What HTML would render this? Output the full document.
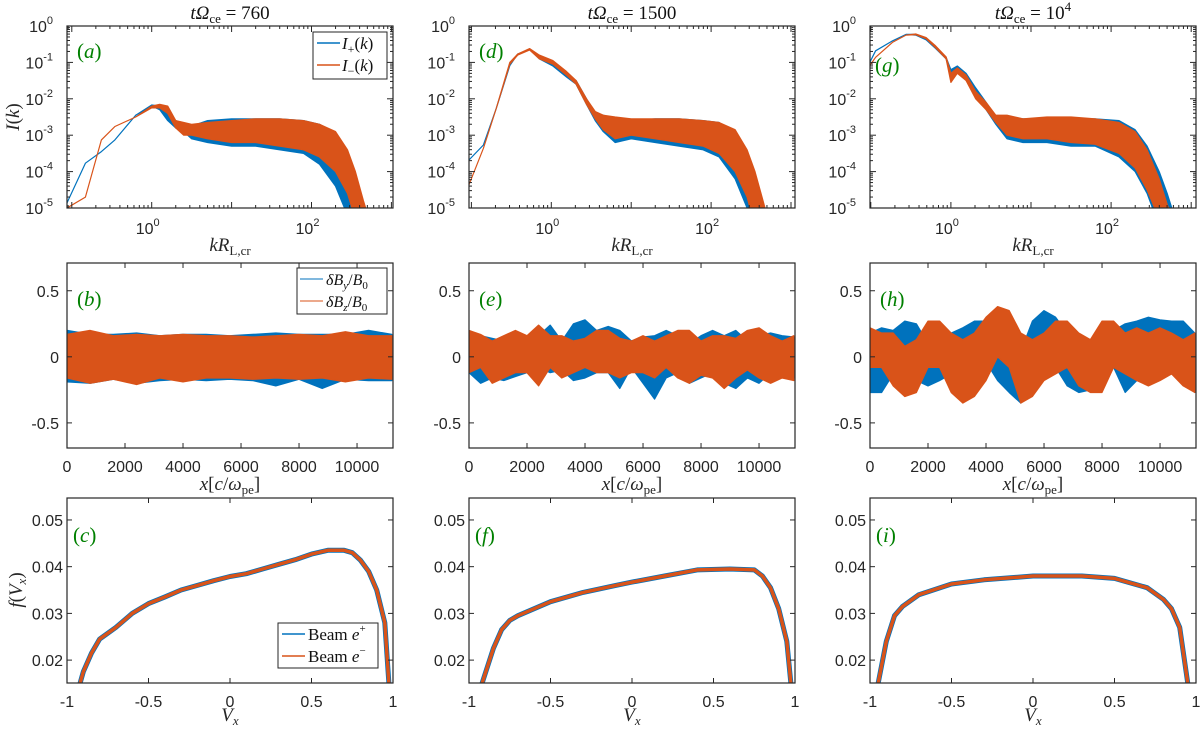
<!DOCTYPE html>
<html><head><meta charset="utf-8">
<style>
html,body{margin:0;padding:0;background:#fff;}
svg{display:block;}
.tk{font-family:"Liberation Sans",sans-serif;font-size:16px;fill:#262626;}
.it{font-family:"Liberation Serif",serif;font-style:italic;}
.rm{font-family:"Liberation Serif",serif;}
</style></head>
<body>
<svg id="fig" width="1200" height="731" viewBox="0 0 1200 731" xmlns="http://www.w3.org/2000/svg"></svg>
<script>
// ---------- DATA ----------
const specK_a = [-1.06,-0.83,-0.63,-0.46,-0.2,0,0.1,0.2,0.3,0.4,0.5,0.7,1.0,1.3,1.6,1.9,2.1,2.3,2.45,2.55,2.65,2.75];
const specBlueUp_a = [-4.86,-3.77,-3.45,-3.13,-2.45,-2.17,-2.2,-2.3,-2.6,-2.7,-2.75,-2.6,-2.55,-2.55,-2.55,-2.6,-2.7,-2.95,-3.6,-4.6,-5.5,-6];
const specBlueLo_a = [-4.86,-3.77,-3.45,-3.13,-2.45,-2.2,-2.3,-2.6,-2.8,-2.9,-3.1,-3.2,-3.3,-3.3,-3.4,-3.5,-3.8,-4.4,-5.2,-6,-6,-6];
const specOrgUp_a = [-5.0,-4.7,-3.13,-2.76,-2.5,-2.2,-2.15,-2.2,-2.6,-2.65,-2.7,-2.65,-2.6,-2.55,-2.55,-2.6,-2.7,-2.9,-3.4,-4.0,-4.8,-5.5];
const specOrgLo_a = [-5.0,-4.7,-3.13,-2.76,-2.5,-2.25,-2.25,-2.4,-2.8,-3.0,-3.0,-3.1,-3.2,-3.2,-3.3,-3.4,-3.6,-4.0,-4.6,-5.3,-6,-6];

const specK_d = [-1.03,-0.85,-0.69,-0.52,-0.42,-0.27,-0.15,0.02,0.19,0.31,0.44,0.55,0.65,0.8,1.0,1.3,1.6,1.9,2.1,2.3,2.45,2.55,2.65,2.75];
const specBlueUp_d = [-3.68,-3.27,-2.27,-1.09,-0.77,-0.64,-0.85,-1.0,-1.3,-1.5,-2.0,-2.4,-2.45,-2.55,-2.6,-2.55,-2.55,-2.6,-2.65,-2.95,-3.6,-4.3,-5.2,-6];
const specBlueLo_d = [-3.68,-3.27,-2.27,-1.09,-0.77,-0.64,-0.9,-1.1,-1.4,-1.6,-2.15,-2.6,-2.9,-3.2,-3.1,-3.2,-3.3,-3.4,-3.6,-4.2,-5.0,-6,-6,-6];
const specOrgUp_d = [-4.36,-3.36,-2.27,-1.0,-0.77,-0.62,-0.8,-0.95,-1.25,-1.5,-2.0,-2.35,-2.45,-2.5,-2.55,-2.55,-2.55,-2.6,-2.65,-2.85,-3.4,-4.0,-4.8,-5.6];
const specOrgLo_d = [-4.36,-3.36,-2.27,-1.05,-0.8,-0.66,-0.9,-1.05,-1.35,-1.6,-2.15,-2.55,-2.85,-3.1,-3.0,-3.1,-3.2,-3.3,-3.5,-4.0,-4.7,-5.5,-6,-6];

const specK_g = [-1.01,-0.94,-0.73,-0.56,-0.44,-0.31,-0.19,-0.06,0,0.08,0.19,0.31,0.44,0.56,0.7,0.9,1.2,1.5,1.8,2.1,2.3,2.45,2.6,2.7,2.8];
const specBlueUp_g = [-0.99,-0.68,-0.41,-0.23,-0.23,-0.36,-0.59,-0.86,-1.2,-1.1,-1.3,-1.7,-2.1,-2.5,-2.5,-2.55,-2.55,-2.55,-2.55,-2.6,-2.85,-3.3,-4.0,-4.6,-5.3];
const specBlueLo_g = [-0.99,-0.68,-0.41,-0.23,-0.25,-0.38,-0.62,-0.9,-1.4,-1.25,-1.45,-1.9,-2.3,-2.7,-3.1,-3.2,-3.2,-3.3,-3.3,-3.6,-4.0,-4.6,-5.5,-6,-6];
const specOrgUp_g = [-1.08,-0.86,-0.45,-0.25,-0.22,-0.32,-0.55,-0.85,-1.3,-1.15,-1.35,-1.8,-2.1,-2.45,-2.45,-2.55,-2.5,-2.5,-2.55,-2.65,-2.9,-3.4,-4.2,-4.9,-5.5];
const specOrgLo_g = [-1.08,-0.86,-0.45,-0.25,-0.24,-0.35,-0.6,-0.9,-1.55,-1.3,-1.5,-2.0,-2.3,-2.65,-3.0,-3.1,-3.1,-3.2,-3.25,-3.5,-3.9,-4.5,-5.3,-6,-6];

const fieldX_b = [0,800,1600,2400,3200,4000,4800,5600,6400,7200,8000,8800,9600,10400,11200];
const fieldBlueUp_b = [0.2,0.17,0.17,0.18,0.16,0.17,0.17,0.16,0.17,0.18,0.17,0.17,0.17,0.2,0.17];
const fieldBlueLo_b = [-0.19,-0.2,-0.17,-0.2,-0.18,-0.17,-0.18,-0.17,-0.18,-0.22,-0.17,-0.24,-0.17,-0.18,-0.18];
const fieldOrgUp_b = [0.17,0.2,0.16,0.17,0.16,0.17,0.16,0.16,0.15,0.16,0.17,0.16,0.19,0.16,0.16];
const fieldOrgLo_b = [-0.16,-0.2,-0.17,-0.21,-0.16,-0.19,-0.16,-0.16,-0.17,-0.16,-0.17,-0.16,-0.19,-0.16,-0.17];

const fieldX_eh = [0,400,800,1200,1600,2000,2400,2800,3200,3600,4000,4400,4800,5200,5600,6000,6400,6800,7200,7600,8000,8400,8800,9200,9600,10000,10400,10800,11200];
const fieldBlueUp_e = [0.2,0.16,0.14,0.12,0.18,0.12,0.16,0.24,0.12,0.25,0.28,0.2,0.23,0.2,0.12,0.15,0.16,0.2,0.16,0.1,0.16,0.2,0.16,0.2,0.12,0.16,0.18,0.16,0.15];
const fieldBlueLo_e = [-0.12,-0.2,-0.16,-0.18,-0.15,-0.12,-0.08,-0.12,-0.1,-0.18,-0.16,-0.12,-0.12,-0.24,-0.08,-0.2,-0.32,-0.16,-0.12,-0.2,-0.16,-0.12,-0.2,-0.24,-0.16,-0.2,-0.12,-0.15,-0.16];
const fieldOrgUp_e = [0.2,0.17,0.12,0.16,0.2,0.16,0.24,0.16,0.16,0.12,0.14,0.2,0.2,0.14,0.12,0.16,0.12,0.16,0.2,0.2,0.12,0.16,0.16,0.14,0.2,0.22,0.16,0.12,0.16];
const fieldOrgLo_e = [-0.12,-0.08,-0.2,-0.16,-0.12,-0.12,-0.22,-0.08,-0.16,-0.12,-0.08,-0.12,-0.12,-0.16,-0.12,-0.12,-0.16,-0.08,-0.16,-0.2,-0.14,-0.16,-0.24,-0.16,-0.1,-0.16,-0.2,-0.16,-0.18];
const fieldBlueUp_h = [0.18,0.22,0.2,0.27,0.25,0.1,0.08,0.18,0.22,0.27,0.27,0.18,0.08,0.04,0.27,0.35,0.3,0.18,0.08,0.1,0.16,0.2,0.25,0.27,0.3,0.28,0.27,0.27,0.18];
const fieldBlueLo_h = [-0.27,-0.27,-0.13,-0.04,-0.18,-0.22,-0.18,-0.13,-0.08,-0.08,-0.04,-0.18,-0.27,-0.35,-0.18,-0.04,-0.08,-0.22,-0.27,-0.25,-0.13,-0.08,-0.27,-0.18,-0.04,-0.08,-0.13,-0.18,-0.27];
const fieldOrgUp_h = [0.22,0.18,0.18,0.08,0.13,0.27,0.27,0.18,0.13,0.18,0.3,0.38,0.35,0.18,0.13,0.18,0.27,0.27,0.18,0.13,0.27,0.27,0.18,0.22,0.18,0.22,0.18,0.13,0.18];
const fieldOrgLo_h = [-0.08,-0.08,-0.22,-0.3,-0.27,-0.08,-0.08,-0.27,-0.35,-0.3,-0.18,0.0,-0.08,-0.35,-0.3,-0.18,-0.13,-0.08,-0.22,-0.27,-0.27,-0.08,-0.13,-0.18,-0.22,-0.18,-0.13,-0.22,-0.27];

const distV_c = [-0.92,-0.9,-0.85,-0.8,-0.7,-0.6,-0.5,-0.4,-0.3,-0.2,-0.1,0,0.1,0.2,0.3,0.4,0.5,0.6,0.7,0.75,0.8,0.85,0.9,0.95,0.975];
const distF_c = [0.015,0.0175,0.0215,0.0245,0.027,0.030,0.0321,0.0335,0.035,0.036,0.037,0.0379,0.0385,0.0395,0.0405,0.0415,0.0427,0.0435,0.0435,0.043,0.0414,0.039,0.035,0.028,0.015];
const distV_f = [-0.92,-0.85,-0.8,-0.75,-0.7,-0.5,-0.3,-0.1,0,0.2,0.4,0.6,0.75,0.8,0.85,0.9,0.95,0.975];
const distF_f = [0.015,0.0225,0.0265,0.0285,0.0295,0.0325,0.0345,0.036,0.0367,0.038,0.0393,0.0395,0.0393,0.038,0.0355,0.031,0.024,0.015];
const distV_i = [-0.95,-0.9,-0.85,-0.8,-0.7,-0.5,-0.3,0,0.3,0.5,0.7,0.8,0.85,0.9,0.95];
const distF_i = [0.015,0.024,0.0295,0.0315,0.034,0.0363,0.0372,0.038,0.038,0.0375,0.0355,0.033,0.031,0.027,0.015];

const titles = ["760","1500","10"];
const panelLetters = ["a","b","c","d","e","f","g","h","i"];
const fieldTicks = [0,2000,4000,6000,8000,10000];
const fieldYTicks = [-0.5,0,0.5];
const distXTicks = [-1,-0.5,0,0.5,1];
const distYTicks = [0.02,0.03,0.04,0.05];

// ---------- DRAW ----------
const NS = "http://www.w3.org/2000/svg";
const svg = document.getElementById('fig');
const BLUE = "#0072BD", ORG = "#D95319";
const colL = [67,469,870], W = 326;
const rowT = [26,263,498], rowH = [182,185,185];

function el(tag, attrs, parent){
  const e = document.createElementNS(NS, tag);
  for (const k in attrs) e.setAttribute(k, attrs[k]);
  (parent||svg).appendChild(e);
  return e;
}
function lin(d0,d1,r0,r1){ return v => r0 + (v-d0)/(d1-d0)*(r1-r0); }
function makeClip(id,x,y,w,h){
  let defs = svg.querySelector('defs') || el('defs',{});
  const cp = el('clipPath',{id:id},defs);
  el('rect',{x:x,y:y,width:w,height:h},cp);
}
function band(g, xs, up, lo, sx, sy, color, name){
  let pts = [];
  for (let i=0;i<xs.length;i++) pts.push(sx(xs[i]).toFixed(1)+","+sy(up[i]).toFixed(1));
  for (let i=xs.length-1;i>=0;i--) pts.push(sx(xs[i]).toFixed(1)+","+sy(lo[i]).toFixed(1));
  const p = el('polygon',{points:pts.join(" "),fill:color,stroke:color,'stroke-width':1.2,'stroke-linejoin':'round'},g);
  
  
}
function text(x,y,str,cls,anchor,parent,name,extra){
  const t = el('text',Object.assign({x:x,y:y,'class':cls,'text-anchor':anchor||'middle'},extra||{}),parent);
  t.textContent = str;
  
  
  return t;
}
function frame(g,x,y,w,h){
  const r = el('rect',{x:x,y:y,width:w,height:h,fill:'none',stroke:'#262626','stroke-width':1.2},g);
  
  
}
function tick(g,x1,y1,x2,y2){ el('line',{x1:x1,y1:y1,x2:x2,y2:y2,stroke:'#262626','stroke-width':1},g); }
function panelLabel(g,x,y,letter){
  const t = el('text',{x:x,y:y,'class':'rm',fill:'#008000','font-size':21},g);
  
  
  const a = el('tspan',{},t); a.textContent='(';
  const b = el('tspan',{'font-style':'italic'},t); b.textContent=letter;
  const c = el('tspan',{},t); c.textContent=')';
}

// ---- Row 1 ----
const specSets = [
  [specK_a,specBlueUp_a,specBlueLo_a,specOrgUp_a,specOrgLo_a],
  [specK_d,specBlueUp_d,specBlueLo_d,specOrgUp_d,specOrgLo_d],
  [specK_g,specBlueUp_g,specBlueLo_g,specOrgUp_g,specOrgLo_g]];
const kMin = [-1.06,-1.03,-1.01], kMax=[3.02,3.05,3.06];
for (let c=0;c<3;c++){
  const x0=colL[c], y0=rowT[0], h=rowH[0];
  const g = el('g',{});
  
  
  const sx = lin(kMin[c],kMax[c],x0,x0+W), sy = lin(0,-5,y0,y0+h);
  makeClip('clip1'+c,x0,y0,W,h);
  const dg = el('g',{'clip-path':'url(#clip1'+c+')'},g);
  const S = specSets[c];
  band(dg,S[0],S[1],S[2],sx,sy,BLUE,'series-I-plus');
  band(dg,S[0],S[3],S[4],sx,sy,ORG,'series-I-minus');
  for (let d=-2; d<=3; d++){
    for (let m=1;m<=9;m++){
      const v = d+Math.log10(m);
      if (v<kMin[c]||v>kMax[c]) continue;
      const L = m===1?6:3, X=sx(v);
      tick(g,X,y0+h,X,y0+h-L); tick(g,X,y0,X,y0+L);
    }
  }
  for (let d=0; d>=-4; d--){
    for (let m=1;m<=9;m++){
      const v = d-1+Math.log10(m);
      const L = m===1?6:3, YY = sy(v);
      tick(g,x0,YY,x0+L,YY); tick(g,x0+W,YY,x0+W-L,YY);
    }
  }
  frame(g,x0,y0,W,h);
  [0,2].forEach(p=>{
    const t = text(sx(p)-4,y0+h+26,'10','tk','middle',g,'x-tick-label');
    const s = el('tspan',{'font-size':11,dy:-8},t); s.textContent=String(p);
  });
  for (let p=0;p>=-5;p--){
    const t = text(x0-14,sy(p)+6,'10','tk','end',g,'y-tick-label');
    const s = el('tspan',{'font-size':11,dy:-8},t); s.textContent=String(p);
  }
  const xl = text(x0+W/2,y0+h+43,'','it','middle',g,'x-axis-title',{'font-size':19,fill:'#262626'});
  xl.innerHTML = 'kR<tspan font-style="normal" font-size="13" dy="4">L,cr</tspan>';
  const tt = text(x0+W/2,y0-7,'','it','middle',g,'panel-title',{'font-size':19,fill:'#111'});
  tt.innerHTML = 'tΩ<tspan font-style="normal" font-size="13" dy="4">ce</tspan><tspan font-style="normal" dy="-4"> = '+titles[c]+'</tspan>' + (c===2?'<tspan font-style="normal" font-size="13" dy="-8">4</tspan>':'');
  panelLabel(g, c===2? x0+5 : x0+10, c===2? y0+46 : y0+32, panelLetters[c*3]);
}
(function(){
  const t = text(0,0,'','it','middle',svg,'y-axis-title-I',{'font-size':19,fill:'#262626',transform:'translate(19,117) rotate(-90)'});
  t.innerHTML='I<tspan font-style="normal">(</tspan>k<tspan font-style="normal">)</tspan>';
})();
(function(){
  const g = el('g',{});
  
  
  el('rect',{x:313,y:32,width:74,height:47,fill:'#fff',stroke:'#262626','stroke-width':1},g);
  el('line',{x1:317,y1:43,x2:340,y2:43,stroke:BLUE,'stroke-width':1.5},g);
  el('line',{x1:317,y1:65,x2:340,y2:65,stroke:ORG,'stroke-width':1.5},g);
  const a = text(342,49,'','it','start',g,'legend-entry-I-plus',{'font-size':17,fill:'#111'});
  a.innerHTML='I<tspan font-style="normal" font-size="12" dy="4">+</tspan><tspan font-style="normal" dy="-4">(</tspan>k<tspan font-style="normal">)</tspan>';
  const b = text(342,71,'','it','start',g,'legend-entry-I-minus',{'font-size':17,fill:'#111'});
  b.innerHTML='I<tspan font-style="normal" font-size="12" dy="4">−</tspan><tspan font-style="normal" dy="-4">(</tspan>k<tspan font-style="normal">)</tspan>';
})();

// ---- Row 2 ----
const fieldSets = [
  [fieldX_b,fieldBlueUp_b,fieldBlueLo_b,fieldOrgUp_b,fieldOrgLo_b],
  [fieldX_eh,fieldBlueUp_e,fieldBlueLo_e,fieldOrgUp_e,fieldOrgLo_e],
  [fieldX_eh,fieldBlueUp_h,fieldBlueLo_h,fieldOrgUp_h,fieldOrgLo_h]];
for (let c=0;c<3;c++){
  const x0=colL[c], y0=rowT[1], h=rowH[1];
  const g = el('g',{});
  
  
  const sx = lin(0,11240,x0,x0+W), sy = lin(0.71,-0.69,y0,y0+h);
  makeClip('clip2'+c,x0,y0,W,h);
  const dg = el('g',{'clip-path':'url(#clip2'+c+')'},g);
  const S = fieldSets[c];
  band(dg,S[0],S[1],S[2],sx,sy,BLUE,'series-dBy');
  band(dg,S[0],S[3],S[4],sx,sy,ORG,'series-dBz');
  fieldTicks.forEach(v=>{ const X=sx(v); tick(g,X,y0+h,X,y0+h-5); tick(g,X,y0,X,y0+5);
    text(X,y0+h+24,String(v),'tk','middle',g,'x-tick-label'); });
  fieldYTicks.forEach(v=>{ const Y=sy(v); tick(g,x0,Y,x0+5,Y); tick(g,x0+W,Y,x0+W-5,Y);
    text(x0-8,Y+6,String(v),'tk','end',g,'y-tick-label'); });
  frame(g,x0,y0,W,h);
  const xl = text(x0+W/2,y0+h+42,'','it','middle',g,'x-axis-title',{'font-size':19,fill:'#262626'});
  xl.innerHTML='x<tspan font-style="normal">[</tspan>c<tspan font-style="normal">/</tspan>ω<tspan font-style="normal" font-size="13" dy="4">pe</tspan><tspan font-style="normal" dy="-4">]</tspan>';
  panelLabel(g,x0+10,y0+43,panelLetters[c*3+1]);
}
(function(){
  const g = el('g',{});
  
  
  el('rect',{x:297,y:268,width:90,height:46,fill:'#fff',stroke:'#262626','stroke-width':1},g);
  el('line',{x1:300,y1:279,x2:323,y2:279,stroke:BLUE,'stroke-width':1},g);
  el('line',{x1:300,y1:301,x2:323,y2:301,stroke:ORG,'stroke-width':1},g);
  const a = text(326,285,'','it','start',g,'legend-entry-dBy',{'font-size':16,fill:'#111'});
  a.innerHTML='δB<tspan font-size="11" dy="4">y</tspan><tspan font-style="normal" dy="-4">/</tspan>B<tspan font-style="normal" font-size="11" dy="4">0</tspan>';
  const b = text(326,307,'','it','start',g,'legend-entry-dBz',{'font-size':16,fill:'#111'});
  b.innerHTML='δB<tspan font-size="11" dy="4">z</tspan><tspan font-style="normal" dy="-4">/</tspan>B<tspan font-style="normal" font-size="11" dy="4">0</tspan>';
})();

// ---- Row 3 ----
const distSets = [[distV_c,distF_c],[distV_f,distF_f],[distV_i,distF_i]];
for (let c=0;c<3;c++){
  const x0=colL[c], y0=rowT[2], h=rowH[2];
  const g = el('g',{});
  
  
  const sx = lin(-1,1,x0,x0+W), sy = lin(0.0547,0.0151,y0,y0+h);
  makeClip('clip3'+c,x0,y0,W,h);
  const dg = el('g',{'clip-path':'url(#clip3'+c+')'},g);
  const S = distSets[c];
  const pts = S[0].map((v,i)=>sx(v).toFixed(1)+","+sy(S[1][i]).toFixed(1)).join(" ");
  const pb = el('polyline',{points:pts,fill:'none',stroke:BLUE,'stroke-width':5,'stroke-linejoin':'round'},dg);
  
  
  const po = el('polyline',{points:pts,fill:'none',stroke:ORG,'stroke-width':3.5,'stroke-linejoin':'round'},dg);
  
  
  distXTicks.forEach(v=>{ const X=sx(v); tick(g,X,y0+h,X,y0+h-5); tick(g,X,y0,X,y0+5);
    text(X,y0+h+24,String(v),'tk','middle',g,'x-tick-label'); });
  distYTicks.forEach(v=>{ const Y=sy(v); tick(g,x0,Y,x0+5,Y); tick(g,x0+W,Y,x0+W-5,Y);
    text(x0-4,Y+6,v.toFixed(2),'tk','end',g,'y-tick-label'); });
  frame(g,x0,y0,W,h);
  const xl = text(x0+W/2,y0+h+38,'','it','middle',g,'x-axis-title',{'font-size':19,fill:'#262626'});
  xl.innerHTML='V<tspan font-size="13" dy="4">x</tspan>';
  panelLabel(g,x0+6,y0+44,panelLetters[c*3+2]);
}
(function(){
  const t = text(0,0,'','it','middle',svg,'y-axis-title-f',{'font-size':19,fill:'#262626',transform:'translate(22,590) rotate(-90)'});
  t.innerHTML='f<tspan font-style="normal">(</tspan>V<tspan font-size="13" dy="4">x</tspan><tspan font-style="normal" dy="-4">)</tspan>';
  const g = el('g',{});
  
  
  el('rect',{x:278,y:623,width:100,height:45,fill:'#fff',stroke:'#262626','stroke-width':1},g);
  el('line',{x1:282,y1:634,x2:305,y2:634,stroke:BLUE,'stroke-width':1.5},g);
  el('line',{x1:282,y1:656,x2:305,y2:656,stroke:ORG,'stroke-width':1.5},g);
  const a = text(308,640,'','rm','start',g,'legend-entry-positron',{'font-size':17,fill:'#111'});
  a.innerHTML='Beam <tspan font-style="italic">e</tspan><tspan font-size="11" dy="-8">+</tspan>';
  const b = text(308,662,'','rm','start',g,'legend-entry-electron',{'font-size':17,fill:'#111'});
  b.innerHTML='Beam <tspan font-style="italic">e</tspan><tspan font-size="11" dy="-8">−</tspan>';
})();
</script>
</body></html>
